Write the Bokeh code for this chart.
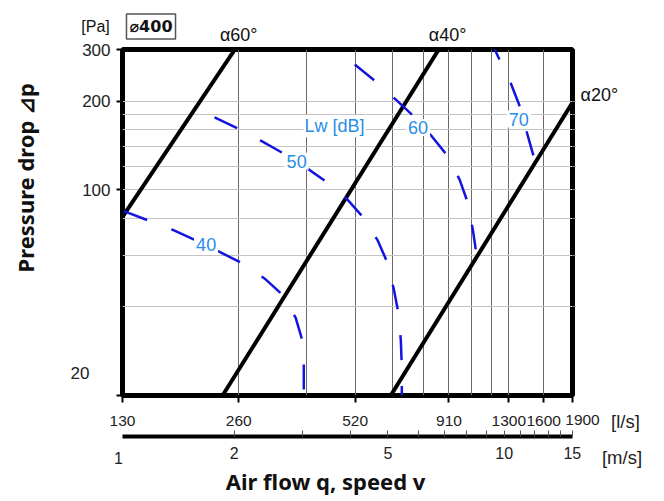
import math
from bokeh.plotting import figure
from bokeh.models import (LogAxis, FixedTicker, Range1d, LogScale, Label,
                          PrintfTickFormatter)
from bokeh.core.properties import value
from bokeh.embed import file_html
from bokeh.resources import INLINE

# ---------------- data ----------------
flow_ticks_ls = [130, 260, 520, 910, 1300, 1600, 1900]
flow_grid_ls = [260, 390, 520, 650, 780, 910, 1040, 1170, 1300, 1600]
speed_ticks_ms = [1, 2, 5, 10, 15]
speed_minor_ms = [3, 4, 6, 7, 8, 9, 11, 12, 13, 14]
pressure_ticks_pa = [20, 100, 200, 300]
pressure_grid_pa = [40, 60, 80, 100, 120, 140, 160, 180, 200]
ls_per_ms = 126.5  # l/s per 1 m/s for the duct

alpha60_q = [130, 254]
alpha60_p = [81, 300]
alpha40_q = [236, 856]
alpha40_p = [20, 300]
alpha20_q = [643, 1900]
alpha20_p = [20, 198]

lw40_q = [131, 175, 215, 266, 303, 338, 365, 378, 383, 383]
lw40_p = [84.7, 73.2, 64.7, 56.2, 50.0, 43.9, 36.7, 31.4, 26.9, 20]
lw50_q = [225, 258, 298, 338, 367, 439, 495, 547, 595, 632, 655, 674, 683, 687, 687]
lw50_p = [176.5, 162, 146.4, 133.4, 125.3, 106.4, 93.2, 80.4, 67.3, 56.2, 45.9, 37.8, 30.7, 24.9, 20]
lw60_q = [519, 588, 662, 738, 821, 903, 970, 1018, 1049, 1074]
lw60_p = [266.6, 233.4, 203, 177.8, 152.2, 130.3, 108.1, 90.4, 73.2, 59.4]
lw70_q = [1154, 1196, 1316, 1388, 1447, 1509]
lw70_p = [331.4, 299.5, 229.9, 192.2, 157.0, 129.3]

lw_labels = ["40", "50", "60", "70"]
lw_label_q = [214, 367, 757, 1380]
lw_label_p = [65, 125, 163, 174]

TICK_FONT = "Liberation Sans"
TITLE_FONT = "Noto Sans"
BLUE_LINE = "#1414e0"
BLUE_TEXT = "#2a8de6"

p = figure(width=655, height=499, x_axis_type="log", y_axis_type="log",
           x_range=Range1d(130, 1900), y_range=Range1d(20, 300),
           output_backend="svg", toolbar_location=None,
           min_border_left=122, min_border_right=83,
           min_border_top=49, min_border_bottom=104)
p.background_fill_color = "white"
p.border_fill_color = "white"
p.outline_line_color = "black"
p.outline_line_width = 5

# grids
p.xgrid.ticker = FixedTicker(ticks=flow_grid_ls)
p.xgrid.grid_line_color = "#6a6a6a"
p.xgrid.grid_line_width = 1
p.ygrid.ticker = FixedTicker(ticks=pressure_grid_pa)
p.ygrid.grid_line_color = "#c4c4c4"
p.ygrid.grid_line_width = 1

# l/s axis
xa = p.xaxis[0]
xa.ticker = FixedTicker(ticks=flow_ticks_ls)
xa.formatter = PrintfTickFormatter(format="%d")
xa.major_label_overrides = {1900: ""}
xa.axis_line_color = None
xa.major_tick_out = 7
xa.major_tick_in = 0
xa.major_tick_line_width = 2
xa.minor_tick_line_color = None
xa.major_label_standoff = 13
xa.major_label_text_font = TICK_FONT
xa.major_label_text_font_size = "15.5px"
xa.major_label_text_color = "#222222"
xa.axis_label = " "
xa.axis_label_text_font_size = "1px"
xa.axis_label_standoff = 4

# m/s axis
p.extra_x_ranges = {"ms": Range1d(130 / ls_per_ms, 1900 / ls_per_ms)}
p.extra_x_scales = {"ms": LogScale()}
ms_axis = LogAxis(x_range_name="ms",
                  ticker=FixedTicker(ticks=speed_ticks_ms, minor_ticks=speed_minor_ms),
                  formatter=PrintfTickFormatter(format="%d"))
ms_axis.axis_line_width = 4
ms_axis.axis_line_color = "black"
ms_axis.major_tick_in = 6
ms_axis.major_tick_out = 0
ms_axis.minor_tick_in = 6
ms_axis.minor_tick_out = 0
ms_axis.major_tick_line_width = 1
ms_axis.minor_tick_line_width = 1
ms_axis.major_tick_line_color = "#555555"
ms_axis.minor_tick_line_color = "#555555"
ms_axis.major_label_standoff = 10
ms_axis.major_label_text_font = TICK_FONT
ms_axis.major_label_text_font_size = "16px"
ms_axis.major_label_text_color = "#222222"
p.add_layout(ms_axis, "below")

# pressure axis
ya = p.yaxis[0]
ya.ticker = FixedTicker(ticks=pressure_ticks_pa)
ya.formatter = PrintfTickFormatter(format="%d")
ya.major_label_overrides = {20: ""}
ya.axis_line_color = None
ya.major_tick_out = 6
ya.major_tick_in = 0
ya.major_tick_line_width = 2
ya.minor_tick_line_color = None
ya.major_label_standoff = 6
ya.major_label_text_font = TICK_FONT
ya.major_label_text_font_size = "17px"
ya.major_label_text_color = "#222222"

ra = LogAxis(ticker=FixedTicker(ticks=pressure_grid_pa))
ra.axis_line_color = None
ra.major_tick_out = 3
ra.major_tick_in = 0
ra.major_tick_line_color = "#888888"
ra.minor_tick_line_color = None
ra.major_label_text_color = None
ra.major_label_text_font_size = "1px"
p.add_layout(ra, "right")

# damper lines
for q, dp in [(alpha60_q, alpha60_p), (alpha40_q, alpha40_p), (alpha20_q, alpha20_p)]:
    p.line(q, dp, line_color="black", line_width=4)

# sound power curves
for q, dp in [(lw40_q, lw40_p), (lw50_q, lw50_p), (lw60_q, lw60_p), (lw70_q, lw70_p)]:
    p.line(q, dp, line_color=BLUE_LINE, line_width=2.5, line_dash="25 26")


def add_label(x, y, text, size="18px", pad=2):
    lab = Label(x=x, y=y, text=text, text_font=TICK_FONT, text_font_size=size,
                text_color=BLUE_TEXT, text_align="center", text_baseline="middle",
                background_fill_color="white", padding=pad)
    p.add_layout(lab)


for t, q, dp in zip(lw_labels, lw_label_q, lw_label_p):
    add_label(q, dp, t)
add_label(460, 164.5, "Lw [dB]", pad=1)


def add_text(x, y, text, dx=0, dy=0, size="16px", color="#111111", align="center",
             baseline="middle", bold=False, angle=0, font=TICK_FONT, border=None):
    kw = {}
    if border:
        kw = dict(border_line_color=border, border_line_width=1.5, padding=3)
    p.text(x=[x], y=[y], text=[text], x_offset=dx, y_offset=-dy,
           text_font=value(font), text_font_size=size, text_color=color,
           text_align=align, text_baseline=baseline,
           text_font_style="bold" if bold else "normal",
           angle=math.radians(angle), level="overlay", **kw)


add_text(alpha60_q[1], 300, "α60°", dx=-15, dy=15, align="left", size="18px")
add_text(alpha40_q[1], 300, "α40°", dx=-10, dy=15, align="left", size="18px")
add_text(1900, alpha20_p[1], "α20°", dx=8, dy=8, align="left", size="18px")

add_text(130, 300, "[Pa]", dx=-27, dy=23, size="16px")
add_text(130, 300, "⌀400", dx=28.5, dy=23, size="16px", bold=True, border="#555555",
         font="DejaVu Sans")
add_text(130, 20, "20", dx=-42.5, dy=23, size="17px", color="#222222")
add_text(1900, 20, "1900", dx=10, dy=-24.5, size="15.5px", color="#222222")
add_text(130, 20, "1", dx=-4, dy=-62, size="16px", color="#222222")
add_text(1900, 20, "[l/s]", dx=53, dy=-26, size="18.5px", color="#222222")
add_text(1900, 20, "[m/s]", dx=49.5, dy=-62, size="18.5px", color="#222222")

add_text(436, 20, "Air flow q, speed v", dy=-85, size="22px", bold=True, font=TITLE_FONT)
add_text(130, 110, "Pressure drop ⊿p", dx=-98, angle=90, size="22px", bold=True,
         font=TITLE_FONT)

open("out.html", "w").write(file_html(p, INLINE))
